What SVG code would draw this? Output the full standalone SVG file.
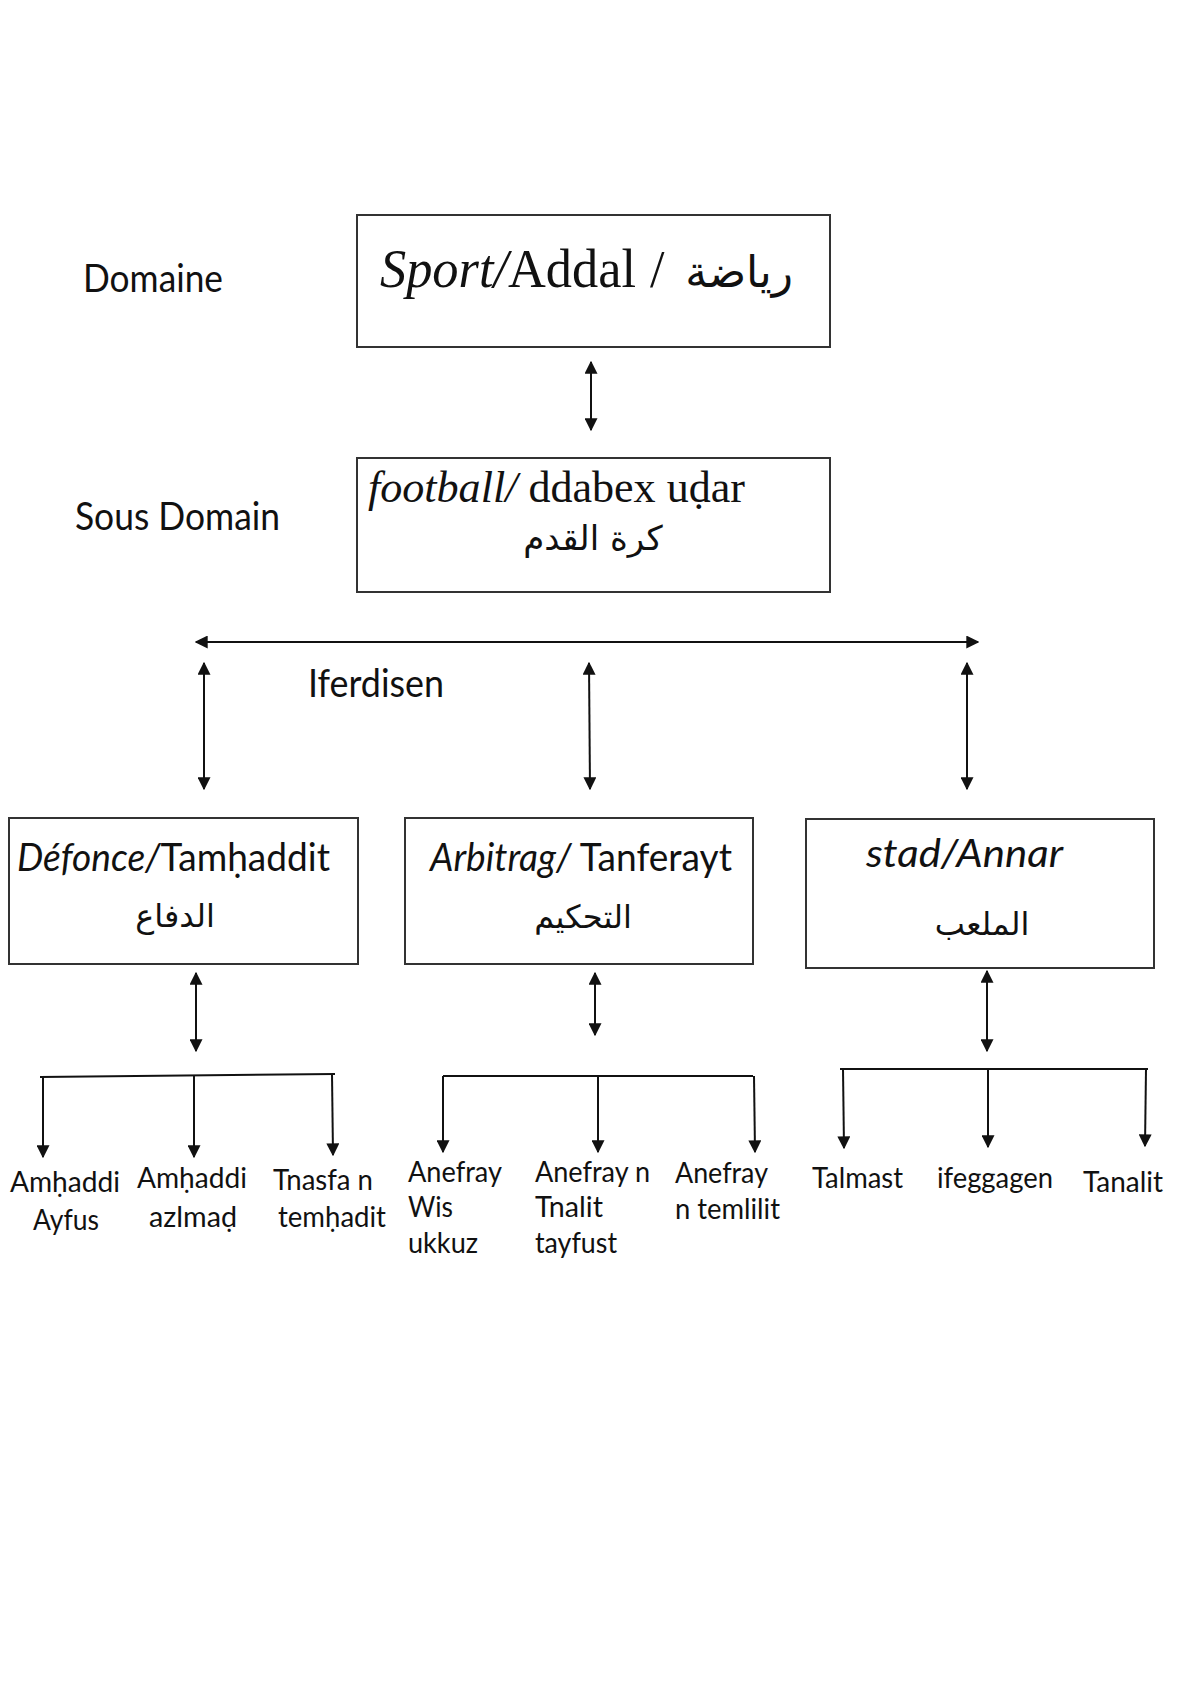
<svg xmlns="http://www.w3.org/2000/svg" width="1182" height="1699" viewBox="0 0 1182 1699">
  <style>
    .box { fill: #ffffff; stroke: #333333; stroke-width: 2; }
    .ln { stroke: #111111; stroke-width: 2; fill: none; }
    .serif { font-family: "Liberation Serif", "Times New Roman", serif; fill: #111111; }
    .sans { font-family: Lato, "Noto Sans", "DejaVu Sans", sans-serif; fill: #111111; }
    .ar { font-family: "DejaVu Sans", "Noto Sans", sans-serif; fill: #111111; }
    .it { font-style: italic; }
    .lbl { font-size: 38px; }
    .leaf { font-size: 29px; }
  </style>
  <defs>
    <marker id="arr" viewBox="0 0 10 10" refX="9" refY="5" markerWidth="13" markerHeight="13" markerUnits="userSpaceOnUse" orient="auto-start-reverse">
      <path d="M0,0 L10,5 L0,10 z" fill="#111111"/>
    </marker>
  </defs>
  <rect width="1182" height="1699" fill="#ffffff"/>

  <g id="labels">
    <text class="sans lbl" x="83" y="292" textLength="140" lengthAdjust="spacingAndGlyphs">Domaine</text>
    <text class="sans lbl" x="75" y="530" textLength="205" lengthAdjust="spacingAndGlyphs">Sous Domain</text>
    <text class="sans lbl" x="308" y="697" textLength="136" lengthAdjust="spacingAndGlyphs">Iferdisen</text>
  </g>

  <g id="node-sport">
    <rect class="box" x="357" y="215" width="473" height="132"/>
    <text class="serif" x="380" y="287" font-size="54" textLength="256" lengthAdjust="spacingAndGlyphs"><tspan class="it">Sport/</tspan>Addal</text>
    <text class="serif" x="650" y="287" font-size="52">/</text>
    <text class="ar" x="793" y="287" font-size="44" text-anchor="end">رياضة</text>
  </g>

  <g id="node-football">
    <rect class="box" x="357" y="458" width="473" height="134"/>
    <text class="serif" x="368" y="502" font-size="44" textLength="377" lengthAdjust="spacingAndGlyphs"><tspan class="it">football/</tspan> ddabex uḍar</text>
    <text class="ar" x="593" y="550" font-size="34" text-anchor="middle">كرة القدم</text>
  </g>

  <g id="node-defonce">
    <rect class="box" x="9" y="818" width="349" height="146"/>
    <text class="sans lbl" x="17" y="871" textLength="313" lengthAdjust="spacingAndGlyphs"><tspan class="it">Défonce/</tspan>Tamḥaddit</text>
    <text class="ar" x="175" y="927" font-size="32" text-anchor="middle">الدفاع</text>
  </g>

  <g id="node-arbitrag">
    <rect class="box" x="405" y="818" width="348" height="146"/>
    <text class="sans lbl" x="430" y="871" textLength="302" lengthAdjust="spacingAndGlyphs"><tspan class="it">Arbitrag/</tspan> Tanferayt</text>
    <text class="ar" x="583" y="928" font-size="32" text-anchor="middle">التحكيم</text>
  </g>

  <g id="node-stad">
    <rect class="box" x="806" y="819" width="348" height="149"/>
    <text class="sans lbl it" x="866" y="867" textLength="197" lengthAdjust="spacingAndGlyphs">stad/Annar</text>
    <text class="ar" x="982" y="935" font-size="32" text-anchor="middle">الملعب</text>
  </g>

  <g id="leaf-amhaddi-ayfus">
    <text class="sans leaf" x="10" y="1192" textLength="110" lengthAdjust="spacingAndGlyphs">Amḥaddi</text>
    <text class="sans leaf" x="33" y="1230" textLength="66" lengthAdjust="spacingAndGlyphs">Ayfus</text>
  </g>
  <g id="leaf-amhaddi-azlmad">
    <text class="sans leaf" x="137" y="1188" textLength="110" lengthAdjust="spacingAndGlyphs">Amḥaddi</text>
    <text class="sans leaf" x="149" y="1227" textLength="88" lengthAdjust="spacingAndGlyphs">azlmaḍ</text>
  </g>
  <g id="leaf-tnasfa">
    <text class="sans leaf" x="273" y="1190" textLength="100" lengthAdjust="spacingAndGlyphs">Tnasfa n</text>
    <text class="sans leaf" x="278" y="1227" textLength="108" lengthAdjust="spacingAndGlyphs">temḥadit</text>
  </g>
  <g id="leaf-anefray-wis">
    <text class="sans leaf" x="408" y="1182" textLength="94" lengthAdjust="spacingAndGlyphs">Anefray</text>
    <text class="sans leaf" x="408" y="1217" textLength="45" lengthAdjust="spacingAndGlyphs">Wis</text>
    <text class="sans leaf" x="408" y="1253" textLength="70" lengthAdjust="spacingAndGlyphs">ukkuz</text>
  </g>
  <g id="leaf-anefray-tnalit">
    <text class="sans leaf" x="535" y="1182" textLength="115" lengthAdjust="spacingAndGlyphs">Anefray n</text>
    <text class="sans leaf" x="535" y="1217" textLength="68" lengthAdjust="spacingAndGlyphs">Tnalit</text>
    <text class="sans leaf" x="535" y="1253" textLength="82" lengthAdjust="spacingAndGlyphs">tayfust</text>
  </g>
  <g id="leaf-anefray-temlilit">
    <text class="sans leaf" x="675" y="1183" textLength="93" lengthAdjust="spacingAndGlyphs">Anefray</text>
    <text class="sans leaf" x="675" y="1219" textLength="105" lengthAdjust="spacingAndGlyphs">n temlilit</text>
  </g>
  <g id="leaf-talmast">
    <text class="sans leaf" x="812" y="1188" textLength="91" lengthAdjust="spacingAndGlyphs">Talmast</text>
  </g>
  <g id="leaf-ifeggagen">
    <text class="sans leaf" x="937" y="1188" textLength="116" lengthAdjust="spacingAndGlyphs">ifeggagen</text>
  </g>
  <g id="leaf-tanalit">
    <text class="sans leaf" x="1083" y="1192" textLength="80" lengthAdjust="spacingAndGlyphs">Tanalit</text>
  </g>

  <g id="connectors">
    <line class="ln" x1="591" y1="362" x2="591" y2="430" marker-start="url(#arr)" marker-end="url(#arr)"/>
    <line class="ln" x1="196" y1="642" x2="978" y2="642" marker-start="url(#arr)" marker-end="url(#arr)"/>
    <line class="ln" x1="204" y1="663" x2="204" y2="789" marker-start="url(#arr)" marker-end="url(#arr)"/>
    <line class="ln" x1="589" y1="663" x2="590" y2="789" marker-start="url(#arr)" marker-end="url(#arr)"/>
    <line class="ln" x1="967" y1="663" x2="967" y2="789" marker-start="url(#arr)" marker-end="url(#arr)"/>

    <line class="ln" x1="196" y1="973" x2="196" y2="1051" marker-start="url(#arr)" marker-end="url(#arr)"/>
    <line class="ln" x1="595" y1="973" x2="595" y2="1035" marker-start="url(#arr)" marker-end="url(#arr)"/>
    <line class="ln" x1="987" y1="971" x2="987" y2="1051" marker-start="url(#arr)" marker-end="url(#arr)"/>

    <line class="ln" x1="40" y1="1077" x2="335" y2="1074"/>
    <line class="ln" x1="43" y1="1077" x2="43" y2="1157" marker-end="url(#arr)"/>
    <line class="ln" x1="194" y1="1076" x2="194" y2="1157" marker-end="url(#arr)"/>
    <line class="ln" x1="332" y1="1074" x2="333" y2="1155" marker-end="url(#arr)"/>

    <line class="ln" x1="443" y1="1076" x2="753" y2="1076"/>
    <line class="ln" x1="443" y1="1076" x2="443" y2="1152" marker-end="url(#arr)"/>
    <line class="ln" x1="598" y1="1076" x2="598" y2="1152" marker-end="url(#arr)"/>
    <line class="ln" x1="754" y1="1076" x2="755" y2="1152" marker-end="url(#arr)"/>

    <line class="ln" x1="840" y1="1069" x2="1148" y2="1069"/>
    <line class="ln" x1="843" y1="1069" x2="844" y2="1148" marker-end="url(#arr)"/>
    <line class="ln" x1="988" y1="1069" x2="988" y2="1147" marker-end="url(#arr)"/>
    <line class="ln" x1="1146" y1="1069" x2="1145" y2="1146" marker-end="url(#arr)"/>
  </g>
</svg>
